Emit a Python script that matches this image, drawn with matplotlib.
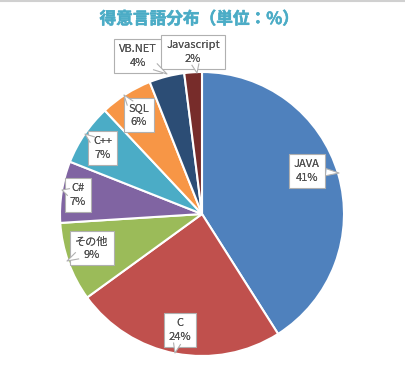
import matplotlib.pyplot as plt
import matplotlib.patheffects as pe
from matplotlib.patches import Polygon

plt.rcParams['font.family'] = ['Noto Sans CJK JP', 'DejaVu Sans']

# data
langs = ['JAVA', 'C', 'その他', 'C#', 'C++', 'SQL', 'VB.NET', 'Javascript']
shares = [41, 24, 9, 7, 7, 6, 4, 2]
colors = ['#4F81BD', '#C0504D', '#9BBB59', '#8064A2', '#4BACC6', '#F79646', '#2C4D75', '#772C2A']

# label box centres and callout tips, in pixels (y down)
box_xy = [(307, 171), (180, 330), (92, 248), (78, 195), (103, 148), (139, 115), (138, 56), (193, 52)]
tip_xy = [(339, 173), (175, 353), (67, 261), (62, 190), (85, 134), (124, 95), (167, 74), (197, 73)]

W, H = 406, 375
fig = plt.figure(figsize=(W / 100, H / 100), dpi=100)
ax = fig.add_axes([0, 0, 1, 1])

ax.pie(shares, colors=colors, startangle=90, counterclock=False,
       center=(202, H - 214), radius=142,
       wedgeprops=dict(edgecolor='white', linewidth=1.5))

# pie() resets the limits, so set them afterwards
ax.set_xlim(0, W)
ax.set_ylim(0, H)
ax.set_aspect('equal')
ax.axis('off')

for name, val, (bx, by), (tx, ty) in zip(langs, shares, box_xy, tip_xy):
    ax.text(bx, H - by, f'{name}\n{val}%', ha='center', va='center',
            fontsize=8, color='#505050', linespacing=1.4, zorder=5,
            bbox=dict(boxstyle='square,pad=0.45', fc='white', ec='#b0b0b0', lw=0.8))
    # small white pointer from the box toward the slice
    dx, dy = tx - bx, ty - by
    n = (dx ** 2 + dy ** 2) ** 0.5
    px, py = -dy / n * 3.5, dx / n * 3.5
    sx, sy = bx + dx * 0.6, by + dy * 0.6
    tri = [(sx + px, H - (sy + py)), (tx, H - ty), (sx - px, H - (sy - py))]
    ax.add_patch(Polygon(tri, closed=True, fc='white', ec='none', zorder=6))
    ax.plot([tri[0][0], tri[1][0], tri[2][0]], [tri[0][1], tri[1][1], tri[2][1]],
            color='#b0b0b0', lw=0.8, zorder=6)
    ax.text(bx, H - by, f'{name}\n{val}%', ha='center', va='center',
            fontsize=8, color='#505050', linespacing=1.4, zorder=7)

ax.text(199, H - 19, '得意言語分布（単位：%）', ha='center', va='center',
        fontsize=12, fontweight='bold', color='#4BACC6',
        path_effects=[pe.withStroke(linewidth=0.4, foreground='#4BACC6')])

ax.plot([0, W], [H - 0.5, H - 0.5], color='#d0d0d0', lw=1.5, clip_on=False)

fig.savefig('out.png', dpi=100, facecolor='white')
